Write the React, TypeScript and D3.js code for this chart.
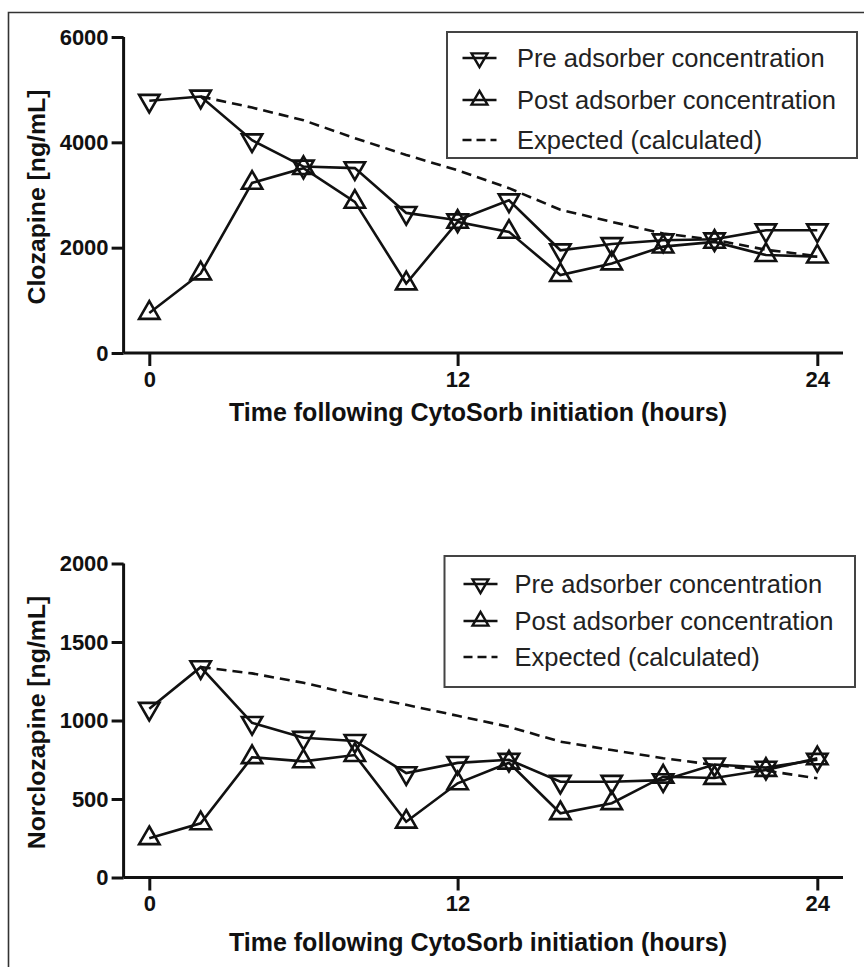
import React, { useEffect, useRef } from "react";
import * as d3 from "d3";

// sample times (evenly spaced on the printed axis)
const sampleHours = [0, 2, 4, 6, 8, 10, 12, 14, 16, 18, 20, 22, 24, 26];
const xTickValues = [0, 12, 26];
const xTickLabels = ["0", "12", "24"];

// Clozapine [ng/mL]
const clozPre = [4790, 4870, 4040, 3540, 3510, 2660, 2520, 2900, 1950, 2070, 2140, 2160, 2330, 2330];
const clozPost = [760, 1510, 3230, 3510, 2870, 1320, 2490, 2300, 1480, 1700, 2020, 2110, 1860, 1830];
const clozExpected = [null, 4870, 4660, 4420, 4080, 3760, 3470, 3130, 2720, 2490, 2270, 2150, 1960, 1840];
const clozTicks = [0, 2000, 4000, 6000];

// Norclozapine [ng/mL]
const norPre = [1075, 1340, 985, 890, 870, 665, 730, 750, 610, 610, 620, 720, 700, 750];
const norPost = [250, 345, 766, 740, 780, 355, 600, 731, 409, 473, 642, 634, 685, 759];
const norExpected = [null, 1340, 1300, 1240, 1165, 1100, 1030, 960, 865, 812, 760, 717, 680, 632];
const norTicks = [0, 500, 1000, 1500, 2000];

const legendLabels = ["Pre adsorber concentration", "Post adsorber concentration", "Expected (calculated)"];

const W = 864;
const H = 967;
const FONT = "'Liberation Sans', Arial, Helvetica, sans-serif";

const App = () => {
  const ref = useRef<SVGSVGElement>(null);

  useEffect(() => {
    const svg = d3.select(ref.current);
    svg.selectAll("*").remove();

    // outer frame of the figure
    svg
      .append("path")
      .attr("d", `M${W + 5},12.5 H8.5 V${H + 5}`)
      .attr("fill", "none")
      .attr("stroke", "#333")
      .attr("stroke-width", 1.6);

    const x = d3.scaleLinear().domain([-1, 27]).range([123.6, 843]);

    const panels = [
      {
        pre: clozPre,
        post: clozPost,
        expected: clozExpected,
        ticks: clozTicks,
        yMax: 6000,
        top: 37,
        bottom: 353,
        yTitle: "Clozapine [ng/mL]",
        xTitleY: 421,
        legend: { x: 447, y: 32, w: 410, h: 126, rows: [58, 100, 140], sx: 479.5 },
      },
      {
        pre: norPre,
        post: norPost,
        expected: norExpected,
        ticks: norTicks,
        yMax: 2000,
        top: 563.5,
        bottom: 877.5,
        yTitle: "Norclozapine [ng/mL]",
        xTitleY: 951,
        legend: { x: 444.5, y: 556, w: 410.5, h: 131, rows: [584, 621, 657], sx: 480.5 },
      },
    ];

    const tri = d3.symbol().type(d3.symbolTriangle).size(180);

    panels.forEach((p) => {
      const y = d3.scaleLinear().domain([0, p.yMax]).range([p.bottom, p.top]);
      const g = svg.append("g");

      // axes
      const yAxis = g
        .append("g")
        .attr("transform", `translate(${x(-1)},0)`)
        .call(d3.axisLeft(y).tickValues(p.ticks).tickSize(12).tickPadding(3).tickFormat(d3.format("d")));
      const xAxis = g
        .append("g")
        .attr("transform", `translate(0,${p.bottom})`)
        .call(
          d3
            .axisBottom(x)
            .tickValues(xTickValues)
            .tickSize(13)
            .tickPadding(5)
            .tickFormat((d, i) => xTickLabels[i])
        );
      [yAxis, xAxis].forEach((a) => {
        a.select(".domain").attr("stroke", "#111").attr("stroke-width", 3);
        a.selectAll(".tick line").attr("stroke", "#111").attr("stroke-width", 3);
        a.selectAll("text")
          .attr("fill", "#111")
          .style("font-family", FONT)
          .style("font-weight", "bold")
          .style("font-size", "22px");
      });
      yAxis.select(".domain").attr("d", `M0,${p.bottom}V${p.top}`);
      xAxis.select(".domain").attr("d", `M${x(-1)},0H${x(27)}`);

      // titles
      g.append("text")
        .attr("transform", `translate(45,${(p.top + p.bottom) / 2 + 2}) rotate(-90)`)
        .attr("text-anchor", "middle")
        .style("font-family", FONT)
        .style("font-weight", "bold")
        .style("font-size", "24.8px")
        .attr("fill", "#111")
        .text(p.yTitle);
      g.append("text")
        .attr("x", 478)
        .attr("y", p.xTitleY)
        .attr("text-anchor", "middle")
        .style("font-family", FONT)
        .style("font-weight", "bold")
        .style("font-size", "25px")
        .attr("fill", "#111")
        .text("Time following CytoSorb initiation (hours)");

      const line = d3
        .line<number | null>()
        .defined((d) => d != null)
        .x((d, i) => x(sampleHours[i]))
        .y((d) => y(d as number));

      g.append("path")
        .datum(p.expected)
        .attr("d", line)
        .attr("fill", "none")
        .attr("stroke", "#111")
        .attr("stroke-width", 2.6)
        .attr("stroke-dasharray", "10,6");

      [p.pre, p.post].forEach((s, k) => {
        g.append("path")
          .datum(s)
          .attr("d", line)
          .attr("fill", "none")
          .attr("stroke", "#111")
          .attr("stroke-width", 2.6);
        g.selectAll(null)
          .data(s)
          .enter()
          .append("path")
          .attr("d", tri)
          .attr(
            "transform",
            (d, i) => `translate(${x(sampleHours[i])},${y(d)})${k === 0 ? " rotate(180)" : ""}`
          )
          .attr("fill", "none")
          .attr("stroke", "#111")
          .attr("stroke-width", 2.6);
      });

      // legend
      const L = p.legend;
      const lg = g.append("g");
      lg.append("rect")
        .attr("x", L.x)
        .attr("y", L.y)
        .attr("width", L.w)
        .attr("height", L.h)
        .attr("fill", "white")
        .attr("stroke", "#444")
        .attr("stroke-width", 2);
      legendLabels.forEach((lab, i) => {
        const cy = L.rows[i];
        lg.append("line")
          .attr("x1", L.sx - 17)
          .attr("x2", L.sx + 17)
          .attr("y1", cy)
          .attr("y2", cy)
          .attr("stroke", "#111")
          .attr("stroke-width", 2.4)
          .attr("stroke-dasharray", i === 2 ? "9,5" : null);
        if (i < 2) {
          lg.append("path")
            .attr("d", d3.symbol().type(d3.symbolTriangle).size(110)())
            .attr("transform", `translate(${L.sx},${cy})${i === 0 ? " rotate(180)" : ""}`)
            .attr("fill", "none")
            .attr("stroke", "#111")
            .attr("stroke-width", 2.4);
        }
        lg.append("text")
          .attr("x", L.x + 70)
          .attr("y", cy + 9)
          .style("font-family", FONT)
          .style("font-size", "25.5px")
          .attr("fill", "#222")
          .text(lab);
      });
    });
  }, []);

  return (
    <svg
      ref={ref}
      width={W}
      height={H}
      style={{ position: "absolute", left: 0, top: 0, background: "white" }}
    />
  );
};

export default App;
